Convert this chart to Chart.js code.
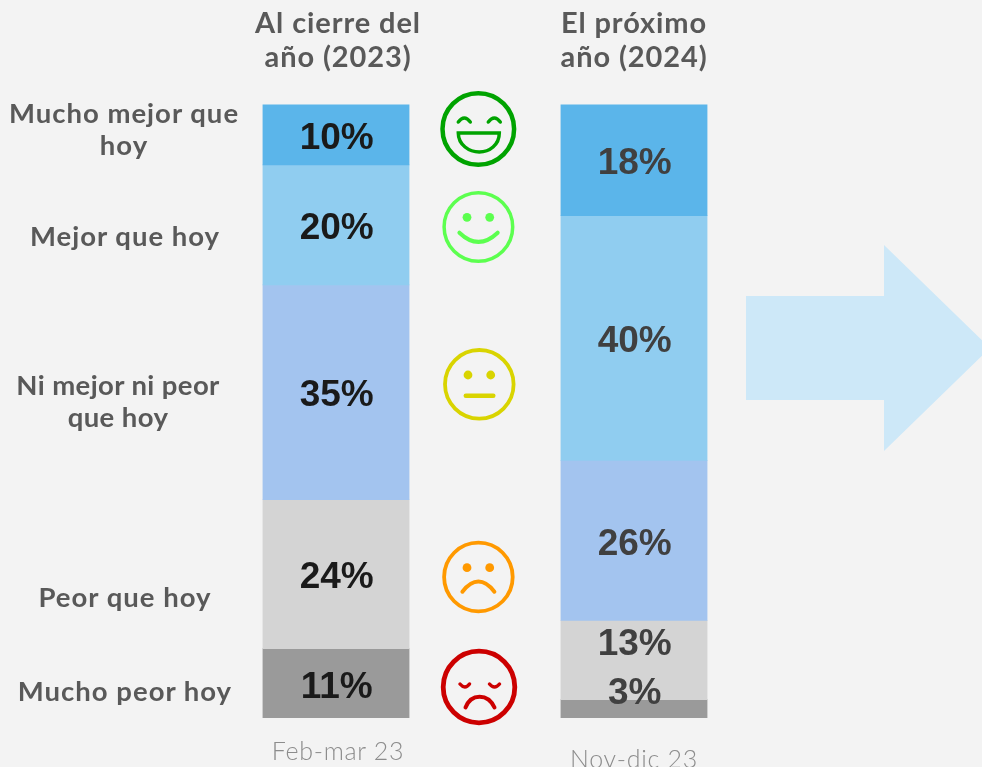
<!DOCTYPE html>
<html lang="es">
<head>
<meta charset="utf-8">
<title>Expectativas</title>
<script src="https://cdn.jsdelivr.net/npm/chart.js@4"></script>
<style>
html,body{margin:0;padding:0;background:#f3f3f3;width:982px;height:767px;overflow:hidden}
#wrap{position:relative;width:982px;height:767px}
canvas{position:absolute;left:0;top:0}
.t{position:absolute;text-align:center;font-family:Lato,sans-serif;font-weight:700;color:#595959;white-space:nowrap;transform:translateX(-50%)}
.h{font-size:29px;line-height:34px;letter-spacing:.9px}
.s{font-size:27.5px;line-height:32px;letter-spacing:1px}
.f{font-size:25px;font-weight:300;color:#8c8c8c;line-height:30px;letter-spacing:.7px}
</style>
</head>
<body>
<div id="wrap">
<canvas id="c" width="982" height="767"></canvas>
<div class="t h" style="left:338px;top:5px">Al cierre del<br>año (2023)</div>
<div class="t h" style="left:634px;top:5px">El próximo<br>año (2024)</div>
<div class="t s" style="left:124px;top:97px">Mucho mejor que<br>hoy</div>
<div class="t s" style="left:125px;top:220px">Mejor que hoy</div>
<div class="t s" style="left:118px;top:369px;letter-spacing:.4px">Ni mejor ni peor<br>que hoy</div>
<div class="t s" style="left:125px;top:581px">Peor que hoy</div>
<div class="t s" style="left:125px;top:675px">Mucho peor hoy</div>
<div class="t f" style="left:338px;top:735px">Feb-mar 23</div>
<div class="t f" style="left:634px;top:743px">Nov-dic 23</div>
</div>
<script>
const categories = ["Al cierre del año (2023)", "El próximo año (2024)"];
const muchoMejor = [9.85, 18.1];
const mejor = [19.55, 39.9];
const niMejorNiPeor = [35.0, 26.1];
const peor = [24.3, 12.9];
const muchoPeor = [11.3, 3.0];

const BG = "#f3f3f3";
// vertical nudges of each printed value, per stack and bar (series order, bar order)
const labelNudge = [[4, 4], [4, 4], [4, 4], [4, -15], [4, -15]];
const labelColor = ["#1a1a1a", "#404040"];

function face(ctx, cx, cy, r, lw, col, kind) {
  ctx.save();
  ctx.strokeStyle = col; ctx.fillStyle = col; ctx.lineWidth = lw; ctx.lineCap = "round";
  ctx.beginPath(); ctx.arc(cx, cy, r, 0, Math.PI * 2); ctx.stroke();
  const dot = (x, y, rr) => { ctx.beginPath(); ctx.arc(x, y, rr, 0, Math.PI * 2); ctx.fill(); };
  if (kind === "laugh") {
    ctx.beginPath();
    ctx.moveTo(cx - 20, cy - 7); ctx.quadraticCurveTo(cx - 14, cy - 15, cx - 8, cy - 7);
    ctx.moveTo(cx + 10, cy - 7); ctx.quadraticCurveTo(cx + 16, cy - 15, cx + 22, cy - 7);
    ctx.lineWidth = 3.5; ctx.stroke();
    ctx.beginPath();
    ctx.moveTo(cx - 20, cy + 4); ctx.lineTo(cx + 21, cy + 4);
    ctx.bezierCurveTo(cx + 21, cy + 16, cx + 11, cy + 23, cx + 1, cy + 23);
    ctx.bezierCurveTo(cx - 9, cy + 23, cx - 20, cy + 16, cx - 20, cy + 4);
    ctx.closePath(); ctx.lineWidth = 3.5; ctx.stroke();
  } else if (kind === "smile") {
    dot(cx - 11.4, cy - 9.7, 4.4); dot(cx + 11.3, cy - 9.7, 4.4);
    ctx.beginPath();
    ctx.moveTo(cx - 19, cy + 5.7); ctx.quadraticCurveTo(cx, cy + 24, cx + 19.3, cy + 5.7);
    ctx.lineWidth = 4; ctx.stroke();
  } else if (kind === "neutral") {
    dot(cx - 11.3, cy - 9.3, 4.4); dot(cx + 11.4, cy - 9.3, 4.4);
    ctx.beginPath();
    ctx.moveTo(cx - 13.5, cy + 11.4); ctx.lineTo(cx + 14, cy + 11.4);
    ctx.lineWidth = 4.5; ctx.stroke();
  } else if (kind === "sad") {
    dot(cx - 11.4, cy - 9.3, 4.4); dot(cx + 11.3, cy - 9.3, 4.4);
    ctx.beginPath();
    ctx.moveTo(cx - 16, cy + 14.7); ctx.quadraticCurveTo(cx, cy - 5.5, cx + 16, cy + 14.7);
    ctx.lineWidth = 4; ctx.stroke();
  } else {
    ctx.beginPath();
    ctx.moveTo(cx - 19, cy - 3); ctx.quadraticCurveTo(cx - 14, cy + 3, cx - 9.5, cy - 3);
    ctx.moveTo(cx + 10.5, cy - 3); ctx.quadraticCurveTo(cx + 15.5, cy + 3, cx + 20.5, cy - 3);
    ctx.lineWidth = 3.5; ctx.stroke();
    ctx.beginPath();
    ctx.moveTo(cx - 13.5, cy + 20.5); ctx.bezierCurveTo(cx - 8, cy + 6, cx + 9, cy + 6, cx + 15.5, cy + 20.5);
    ctx.lineWidth = 4; ctx.stroke();
  }
  ctx.restore();
}

const decor = {
  id: "decor",
  beforeDraw(chart) {
    const ctx = chart.ctx;
    ctx.save();
    ctx.fillStyle = BG;
    ctx.fillRect(0, 0, chart.width, chart.height);
    ctx.fillStyle = "#cde8f8";
    ctx.beginPath();
    ctx.moveTo(746, 296); ctx.lineTo(884, 296); ctx.lineTo(884, 245);
    ctx.lineTo(990, 348); ctx.lineTo(884, 451); ctx.lineTo(884, 400); ctx.lineTo(746, 400);
    ctx.closePath(); ctx.fill();
    ctx.restore();
  },
  afterDraw(chart) {
    const ctx = chart.ctx;
    face(ctx, 478.3, 129, 35.8, 4.5, "#00a300", "laugh");
    face(ctx, 478.4, 227, 34.3, 3.5, "#5cff4f", "smile");
    face(ctx, 479.3, 384.3, 34.3, 3.8, "#d9d400", "neutral");
    face(ctx, 478.4, 577, 34.3, 3.8, "#ff9900", "sad");
    face(ctx, 479, 687, 35.8, 4.8, "#cc0000", "weary");
    ctx.save();
    ctx.font = "bold 37px 'Liberation Sans', Arial, sans-serif";
    ctx.textAlign = "center"; ctx.textBaseline = "middle";
    chart.data.datasets.forEach((ds, i) => {
      chart.getDatasetMeta(i).data.forEach((bar, j) => {
        const p = bar.getProps(["x", "y", "base"], true);
        ctx.fillStyle = labelColor[j];
        ctx.fillText(Math.round(ds.data[j]) + "%", p.x + 0.7, (p.y + p.base) / 2 + labelNudge[i][j]);
      });
    });
    ctx.restore();
  }
};

new Chart(document.getElementById("c"), {
  type: "bar",
  data: {
    labels: categories,
    datasets: [
      { label: "Mucho mejor que hoy", data: muchoMejor, backgroundColor: "#5bb5ea" },
      { label: "Mejor que hoy", data: mejor, backgroundColor: "#90cdf0" },
      { label: "Ni mejor ni peor que hoy", data: niMejorNiPeor, backgroundColor: "#a3c4ef" },
      { label: "Peor que hoy", data: peor, backgroundColor: "#d4d4d4" },
      { label: "Mucho peor hoy", data: muchoPeor, backgroundColor: "#9a9a9a" }
    ]
  },
  options: {
    responsive: false,
    animation: false,
    layout: { padding: { left: 187, right: 199, top: 104.5, bottom: 49 } },
    datasets: { bar: { categoryPercentage: 1, barPercentage: 0.49, borderWidth: 0, inflateAmount: 0.4 } },
    plugins: { legend: { display: false }, tooltip: { enabled: false } },
    scales: {
      x: { stacked: true, display: false },
      y: { stacked: true, display: false, min: 0, max: 100, reverse: true }
    }
  },
  plugins: [decor]
});
</script>
</body>
</html>
